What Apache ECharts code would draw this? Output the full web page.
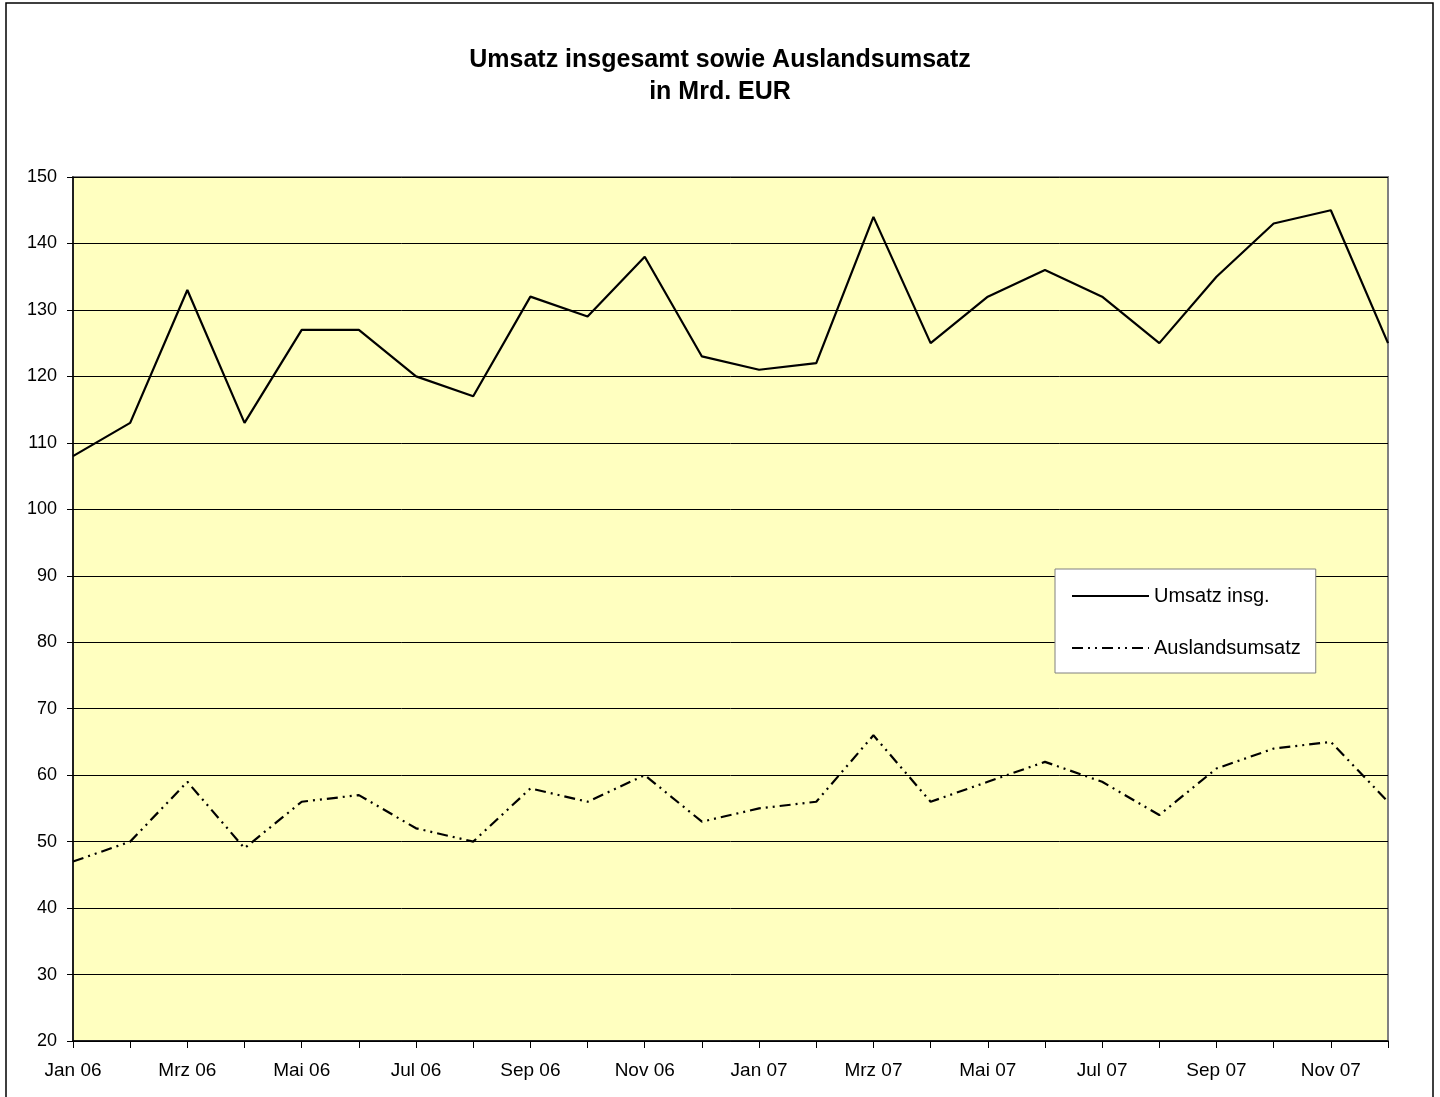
<!DOCTYPE html>
<html>
<head>
<meta charset="utf-8">
<script src="https://cdn.jsdelivr.net/npm/echarts@6/dist/echarts.min.js"></script>
<style>
html,body{margin:0;padding:0;background:#fff;}
#c{width:1440px;height:1097px;}
</style>
</head>
<body>
<div id="c"></div>
<script>
const categories = ['Jan 06','Feb 06','Mrz 06','Apr 06','Mai 06','Jun 06','Jul 06','Aug 06','Sep 06','Okt 06','Nov 06','Dez 06',
                    'Jan 07','Feb 07','Mrz 07','Apr 07','Mai 07','Jun 07','Jul 07','Aug 07','Sep 07','Okt 07','Nov 07','Dez 07'];
const umsatzInsg = [108,113,133,113,127,127,120,117,132,129,138,123,121,122,144,125,132,136,132,125,135,143,145,125];
const auslandsumsatz = [47,50,59,49,56,57,52,50,58,56,60,53,55,56,66,56,59,62,59,54,61,64,65,56];
const seriesNames = ['Umsatz insg.','Auslandsumsatz'];
const titleText = 'Umsatz insgesamt sowie Auslandsumsatz\nin Mrd. EUR';

const FONT = '"Liberation Sans", Arial, sans-serif';
const chart = echarts.init(document.getElementById('c'), null, {renderer:'canvas'});
chart.setOption({
  animation:false,
  backgroundColor:'#ffffff',
  title:{
    text:titleText,
    left:'center', top:39,
    textStyle:{fontFamily:FONT,fontSize:25,fontWeight:'bold',color:'#000',lineHeight:32}
  },
  graphic:[{
    type:'rect', silent:true, z:-1,
    shape:{x:6,y:3,width:1427,height:1110},
    style:{fill:'none',stroke:'#000',lineWidth:1.5}
  }],
  grid:{
    left:73, right:52, top:177, bottom:56,
    show:true, backgroundColor:'#FFFFC0', borderColor:'#808080', borderWidth:2
  },
  legend:{
    data:seriesNames,
    orient:'vertical',
    left:1055, top:569,
    backgroundColor:'#fff', borderColor:'#808080', borderWidth:1,
    padding:[17,15,15,16],
    itemWidth:77, itemHeight:14, itemGap:32,
    itemStyle:{opacity:0},
    textStyle:{fontFamily:FONT,fontSize:20,color:'#000',lineHeight:20}
  },
  xAxis:{
    type:'category', data:categories, boundaryGap:false,
    axisLine:{lineStyle:{color:'#000',width:1.5}},
    axisTick:{show:true,interval:0,length:7,lineStyle:{color:'#000'}},
    axisLabel:{interval:1,color:'#000',fontFamily:FONT,fontSize:19,margin:20},
    splitLine:{show:false}
  },
  yAxis:{
    type:'value', min:20, max:150, interval:10,
    axisLine:{show:true,lineStyle:{color:'#000',width:1.5}},
    axisTick:{show:true,length:6,lineStyle:{color:'#000'}},
    axisLabel:{color:'#000',fontFamily:FONT,fontSize:18,margin:16},
    splitLine:{show:true,lineStyle:{color:'#000',width:1}}
  },
  series:[
    {name:seriesNames[0],type:'line',data:umsatzInsg,symbol:'none',
     lineStyle:{color:'#000',width:2.2,type:'solid'},itemStyle:{color:'rgba(0,0,0,0)'}},
    {name:seriesNames[1],type:'line',data:auslandsumsatz,symbol:'none',
     lineStyle:{color:'#000',width:2.2,type:[11,5,2,5,2,5]},itemStyle:{color:'rgba(0,0,0,0)'}}
  ]
});
</script>
</body>
</html>
